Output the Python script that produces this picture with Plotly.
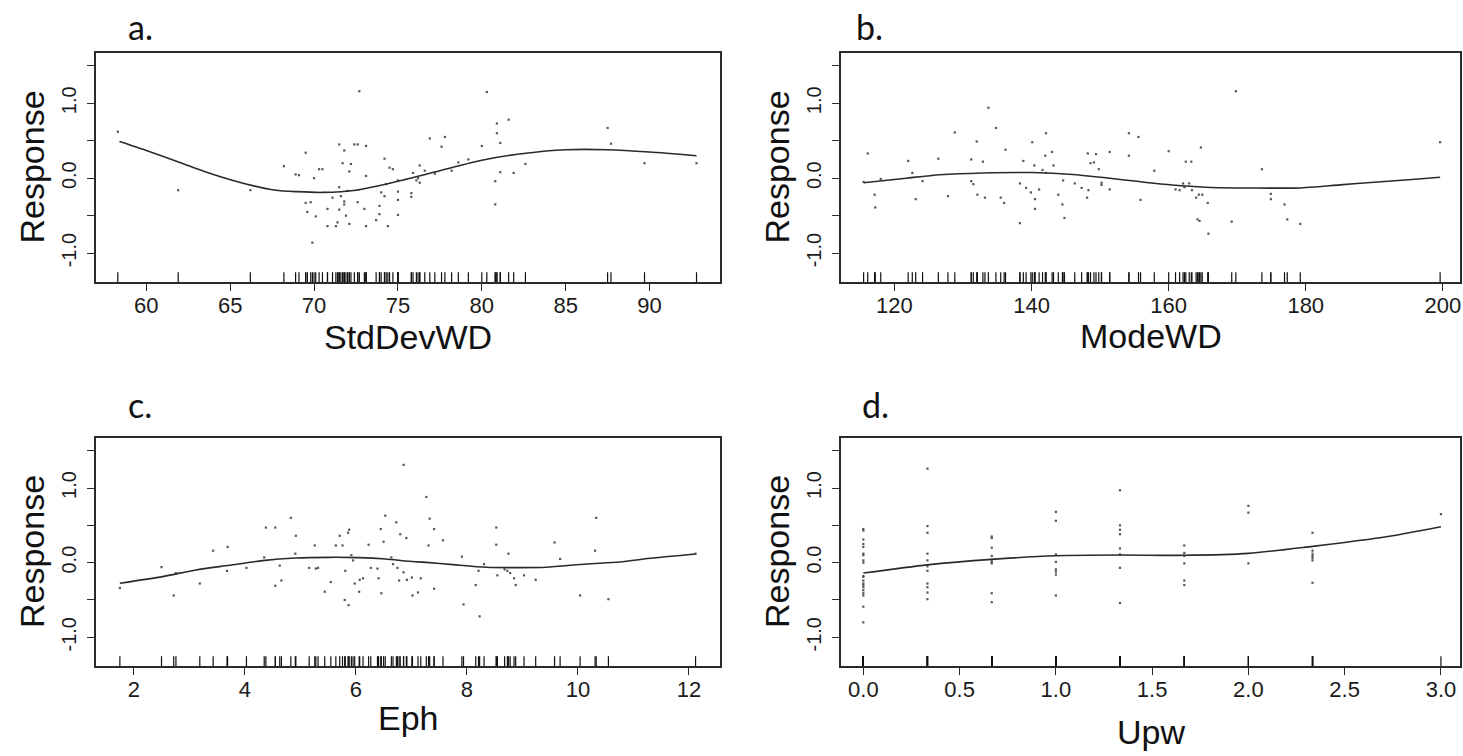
import plotly.graph_objects as go

# ---------------- data ----------------
# Panel a: StdDevWD
A_PTS_X = [58.3, 61.9, 66.2, 68.2, 68.9, 69.1, 69.5, 69.5, 69.8, 69.6, 70.0, 70.1, 69.9, 70.3, 70.5,
           70.8, 70.8, 71.1, 71.3, 71.4, 71.5, 71.5, 71.5, 71.6, 71.8, 71.8, 71.8, 71.9, 71.7, 72.0,
           72.1, 72.1, 72.2, 72.4, 72.6, 72.7, 73.1, 73.1, 72.6, 73.0, 73.1, 73.7, 73.9, 73.9, 74.0,
           74.2, 74.2, 74.4, 74.5, 74.7, 74.3, 75.0, 75.0, 75.0, 75.0, 75.8, 75.8, 75.9, 76.1, 76.2,
           76.3, 76.3, 76.6, 76.9, 77.2, 77.6, 77.8, 78.2, 78.6, 79.2, 80.0, 80.3, 80.9, 80.9, 81.1,
           81.6, 80.8, 81.1, 80.8, 81.9, 82.6, 87.5, 87.7, 89.7, 92.8]
A_PTS_Y = [0.62, -0.16, -0.16, 0.16, 0.05, 0.04, 0.34, -0.33, -0.32, -0.45, 0.00, -0.51, -0.86, 0.12, 0.12,
           -0.41, -0.64, -0.26, -0.64, -0.59, -0.12, 0.45, -0.42, -0.24, 0.37, -0.31, -0.35, -0.50, 0.20, -0.17,
           -0.61, 0.09, 0.19, 0.45, 0.45, 1.16, 0.43, 0.03, -0.32, -0.41, -0.64, -0.56, -0.48, -0.37, -0.19,
           0.26, -0.24, -0.64, 0.14, 0.12, -0.08, -0.03, -0.29, -0.18, -0.49, -0.20, -0.25, 0.07, -0.03, 0.00,
           -0.06, 0.17, 0.10, 0.53, 0.06, 0.42, 0.55, 0.10, 0.21, 0.25, 0.43, 1.15, 0.73, 0.60, 0.47,
           0.78, -0.04, 0.08, -0.35, 0.07, 0.19, 0.67, 0.46, 0.20, 0.20]
A_FIT_X = [58.4, 60, 62, 64, 66, 67.7, 69, 70.5, 72.5, 75, 77.5, 80, 82.5, 85, 87.5, 90, 92.8]
A_FIT_Y = [0.49, 0.37, 0.21, 0.05, -0.08, -0.16, -0.18, -0.19, -0.16, -0.04, 0.10, 0.24, 0.33, 0.38, 0.38, 0.35, 0.30]
A_TICKS = [60, 65, 70, 75, 80, 85, 90]

# Panel b: ModeWD
B_PTS_X = [115.5, 116.1, 117.1, 117.2, 118.0, 122.0, 122.6, 123.1, 124.1, 126.4, 127.8, 128.8, 131.2, 131.2,
           131.5, 132.0, 132.1, 132.9, 133.2, 133.7, 134.8, 135.5, 136.0, 136.2, 138.3, 138.3, 138.8,
           139.2, 139.9, 140.1, 140.4, 140.5, 140.5, 141.1, 141.6, 142.0, 142.1, 142.1, 143.0, 143.2,
           143.9, 144.5, 144.6, 144.8, 146.3, 147.3, 148.1, 148.2, 148.3, 148.6, 149.1, 149.4, 149.8,
           150.2, 150.2, 151.4, 151.4, 154.2, 154.2, 155.6, 155.9, 157.9, 160.0, 161.0, 161.6, 162.1,
           162.3, 162.5, 163.0, 163.3, 163.4, 164.0, 164.4, 164.9, 164.2, 164.5, 164.7, 165.7, 165.8,
           169.2, 169.8, 173.6, 174.9, 174.9, 176.9, 177.3, 179.2, 199.6]
B_PTS_Y = [-0.05, 0.33, -0.22, -0.39, -0.01, 0.23, 0.07, -0.28, -0.04, 0.26, -0.24, 0.61, 0.25, -0.04,
           -0.08, 0.49, -0.22, 0.22, -0.26, 0.94, 0.67, -0.26, -0.33, 0.38, -0.07, -0.60, 0.23,
           -0.13, -0.19, 0.48, 0.17, -0.28, -0.41, -0.15, 0.11, 0.30, 0.60, 0.07, 0.35, 0.17,
           -0.22, -0.35, -0.03, -0.53, -0.07, -0.13, -0.26, 0.33, -0.16, 0.20, 0.21, 0.32, 0.12,
           -0.06, -0.09, 0.35, -0.15, 0.60, 0.30, 0.55, -0.29, 0.10, 0.36, -0.15, -0.16, -0.07,
           -0.12, 0.22, -0.07, 0.22, -0.16, -0.26, -0.22, -0.22, -0.55, -0.57, 0.41, -0.33, -0.74,
           -0.58, 1.16, 0.12, -0.21, -0.28, -0.35, -0.55, -0.61, 0.48]
B_FIT_X = [115.5, 121.7, 126.6, 132.9, 140.1, 146.0, 150.8, 155.7, 160.5, 165.4, 170, 175, 179, 185, 190, 195, 199.6]
B_FIT_Y = [-0.06, 0.0, 0.045, 0.07, 0.075, 0.05, 0.005, -0.045, -0.09, -0.12, -0.13, -0.132, -0.13, -0.089, -0.054, -0.02, 0.013]
B_TICKS = [120, 140, 160, 180, 200]

# Panel c: Eph
C_PTS_X = [1.75, 2.50, 2.72, 2.76, 3.19, 3.43, 3.69, 3.68, 4.03, 4.35, 4.38, 4.55, 4.55, 4.63, 4.66,
           4.83, 4.92, 4.91, 5.16, 5.26, 5.28, 5.32, 5.44, 5.55, 5.64, 5.71, 5.76, 5.80, 5.81, 5.86,
           5.88, 5.87, 5.92, 5.95, 5.98, 6.06, 6.07, 6.13, 6.23, 6.27, 6.39, 6.41, 6.45, 6.46, 6.50,
           6.53, 6.64, 6.67, 6.73, 6.75, 6.78, 6.80, 6.86, 6.86, 6.91, 6.92, 7.02, 7.01, 7.12, 7.17,
           7.27, 7.33, 7.41, 7.31, 7.57, 7.41, 7.91, 7.94, 8.16, 8.21, 8.23, 8.31, 8.53, 8.53, 8.55,
           8.68, 8.73, 8.75, 8.78, 8.85, 8.88, 9.03, 9.24, 9.58, 9.68, 10.04, 10.31, 10.33, 10.55, 12.12]
C_PTS_Y = [-0.34, -0.06, -0.44, -0.14, -0.28, 0.16, 0.21, -0.11, -0.07, 0.07, 0.47, 0.47, -0.31, -0.04, -0.24,
           0.60, 0.36, 0.12, -0.07, 0.23, -0.08, -0.07, -0.39, -0.26, 0.23, 0.36, 0.23, -0.50, -0.11, 0.40,
           0.44, -0.57, 0.10, 0.03, -0.28, -0.39, -0.23, -0.21, 0.24, -0.07, -0.08, -0.21, 0.45, -0.41, 0.28,
           0.63, 0.07, -0.02, 0.54, -0.07, -0.24, 0.38, 1.31, -0.13, 0.33, -0.23, -0.44, -0.20, -0.40, -0.21,
           0.88, 0.59, 0.45, 0.23, 0.30, -0.35, 0.08, -0.56, -0.30, -0.11, -0.72, -0.02, 0.47, 0.24, -0.17,
           -0.09, -0.11, 0.12, -0.14, -0.21, -0.30, -0.17, -0.23, 0.27, 0.05, -0.44, 0.16, 0.60, -0.49, 0.12]
C_FIT_X = [1.75, 2.52, 3.12, 3.72, 4.32, 4.92, 5.52, 6.06, 6.54, 6.96, 7.26, 7.75, 8.35, 8.95, 9.43, 10.15, 10.75, 11.35, 12.12]
C_FIT_Y = [-0.276, -0.187, -0.098, -0.036, 0.027, 0.062, 0.071, 0.067, 0.049, 0.018, 0.004, -0.027, -0.062,
           -0.067, -0.062, -0.018, 0.009, 0.062, 0.116]
C_TICKS = [2, 4, 6, 8, 10, 12]

# Panel d: Upw
D_PTS_X = [0.0] * 20 + [0.333] * 11 + [0.667] * 9 + [1.0] * 8 + [1.333] * 8 + [1.667] * 6 + [2.0] * 3 + [2.333] * 7 + [3.0]
D_PTS_Y = [0.45, 0.43, 0.31, 0.25, 0.21, 0.12, 0.10, 0.03, 0.00, -0.18, -0.19, -0.24, -0.28, -0.30, -0.33, -0.37, -0.41, -0.44, -0.59, -0.80,
           1.26, 0.49, 0.40, 0.12, 0.03, -0.05, -0.11, -0.28, -0.33, -0.40, -0.49,
           0.35, 0.33, 0.20, 0.09, 0.04, 0.01, -0.01, -0.41, -0.53,
           0.68, 0.56, 0.11, 0.01, -0.09, -0.12, -0.16, -0.44,
           0.97, 0.50, 0.44, 0.38, 0.19, 0.11, -0.07, -0.54,
           0.23, 0.13, 0.09, -0.01, -0.24, -0.30,
           0.76, 0.67, -0.01,
           0.40, 0.16, 0.12, 0.09, 0.06, 0.03, -0.27,
           0.65]
D_FIT_X = [0.0, 0.333, 0.667, 1.0, 1.333, 1.667, 2.0, 2.333, 2.5, 2.75, 3.0]
D_FIT_Y = [-0.14, -0.03, 0.044, 0.093, 0.102, 0.098, 0.124, 0.218, 0.27, 0.36, 0.48]
D_TICKS = [0.0, 0.5, 1.0, 1.5, 2.0, 2.5, 3.0]

Y_TICKS = [-1.0, -0.5, 0.0, 0.5, 1.0, 1.5]
Y_TICKTEXT = ["-1.0", "", "0.0", "", "1.0", ""]
Y_RANGE = [-1.385, 1.67]

X_TITLES = ["StdDevWD", "ModeWD", "Eph", "Upw"]
PANEL_LABELS = ["a.", "b.", "c.", "d."]

# ---------------- layout geometry (pixels) ----------------
W, H = 1463, 756
def px_x(p):
    return p / W
def px_y(p):
    return 1 - p / H

panels = [
    dict(xs=A_PTS_X, ys=A_PTS_Y, fx=A_FIT_X, fy=A_FIT_Y, ticks=A_TICKS, tickfmt=None,
         rng=[57.0, 94.2], box=(96, 720, 53, 282), xt_y=337, lab=(126, 27)),
    dict(xs=B_PTS_X, ys=B_PTS_Y, fx=B_FIT_X, fy=B_FIT_Y, ticks=B_TICKS, tickfmt=None,
         rng=[112.2, 202.5], box=(841, 1460, 53, 282), xt_y=336, lab=(854, 27)),
    dict(xs=C_PTS_X, ys=C_PTS_Y, fx=C_FIT_X, fy=C_FIT_Y, ticks=C_TICKS, tickfmt=None,
         rng=[1.32, 12.56], box=(96, 720, 438, 666), xt_y=718, lab=(126, 404)),
    dict(xs=D_PTS_X, ys=D_PTS_Y, fx=D_FIT_X, fy=D_FIT_Y, ticks=D_TICKS, tickfmt="%.1f",
         rng=[-0.116, 3.099], box=(841, 1460, 438, 666), xt_y=732, lab=(860, 404)),
]

LINE_C = "#2a2a2a"
TICK_FONT_X = dict(family="Liberation Sans Narrow, Arial Narrow, Liberation Sans, Arial", size=22, color="#1a1a1a")
TICK_FONT_Y = dict(family="Liberation Sans Narrow, Arial Narrow, Liberation Sans, Arial", size=20, color="#1a1a1a")
TITLE_FONT = dict(family="Liberation Sans, Arial, sans-serif", size=34, color="#111111")
LABEL_FONT = dict(family="Lato, Open Sans, sans-serif", size=34, color="#111111")

fig = go.Figure()
layout = dict(width=W, height=H, autosize=False, margin=dict(l=0, r=0, t=0, b=0),
              paper_bgcolor="white", plot_bgcolor="white", showlegend=False, annotations=[])

for i, p in enumerate(panels, start=1):
    xa = "x" if i == 1 else f"x{i}"
    ya = "y" if i == 1 else f"y{i}"
    # partial residual points
    fig.add_trace(go.Scatter(x=p["xs"], y=p["ys"], mode="markers", xaxis=xa, yaxis=ya,
                             marker=dict(symbol="square", size=2.2, color="#555555", line=dict(width=0)),
                             hoverinfo="skip"))
    # fitted smooth
    fig.add_trace(go.Scatter(x=p["fx"], y=p["fy"], mode="lines", xaxis=xa, yaxis=ya,
                             line=dict(color=LINE_C, width=1.6, shape="spline", smoothing=0.7),
                             hoverinfo="skip"))
    # rug (clipped to the plot area so only the upper half shows)
    fig.add_trace(go.Scatter(x=p["xs"], y=[Y_RANGE[0]] * len(p["xs"]), mode="markers", xaxis=xa, yaxis=ya,
                             cliponaxis=True,
                             marker=dict(symbol="line-ns", size=14, line=dict(color="#111111", width=1.2)),
                             hoverinfo="skip"))
    l, r, t, b = p["box"]
    tt = [p["tickfmt"] % v for v in p["ticks"]] if p["tickfmt"] else [str(v) for v in p["ticks"]]
    layout["xaxis" if i == 1 else f"xaxis{i}"] = dict(
        domain=[px_x(l), px_x(r)], anchor=ya, range=p["rng"], showgrid=False, zeroline=False,
        showline=True, linecolor=LINE_C, linewidth=1.5, mirror=True,
        ticks="outside", ticklen=7, tickwidth=1.2, tickcolor=LINE_C, ticklabelstandoff=-4,
        ticklabeloverflow="allow",
        tickvals=p["ticks"], ticktext=tt, tickfont=TICK_FONT_X)
    layout["yaxis" if i == 1 else f"yaxis{i}"] = dict(
        domain=[px_y(b), px_y(t)], anchor=xa, range=Y_RANGE, showgrid=False, zeroline=False,
        showline=True, linecolor=LINE_C, linewidth=1.5, mirror=True,
        ticks="outside", ticklen=7, tickwidth=1.2, tickcolor=LINE_C, ticklabelstandoff=3,
        ticklabeloverflow="allow",
        tickvals=Y_TICKS, ticktext=Y_TICKTEXT, tickangle=-90, tickfont=TICK_FONT_Y)
    # axis titles
    layout["annotations"].append(dict(text=X_TITLES[i - 1], xref="paper", yref="paper",
                                      x=px_x((l + r) / 2), y=px_y(p["xt_y"]),
                                      xanchor="center", yanchor="middle", showarrow=False, font=TITLE_FONT))
    layout["annotations"].append(dict(text="Response", xref="paper", yref="paper", textangle=-90,
                                      x=px_x(l - 64), y=px_y((t + b) / 2),
                                      xanchor="center", yanchor="middle", showarrow=False, font=TITLE_FONT))
    layout["annotations"].append(dict(text=PANEL_LABELS[i - 1], xref="paper", yref="paper",
                                      x=px_x(p["lab"][0]), y=px_y(p["lab"][1]),
                                      xanchor="left", yanchor="middle", showarrow=False, font=LABEL_FONT))

fig.update_layout(**layout)
fig.write_html("out.html", config={"displayModeBar": False},
               post_script="document.body.style.margin='0';document.body.style.overflow='hidden';")
